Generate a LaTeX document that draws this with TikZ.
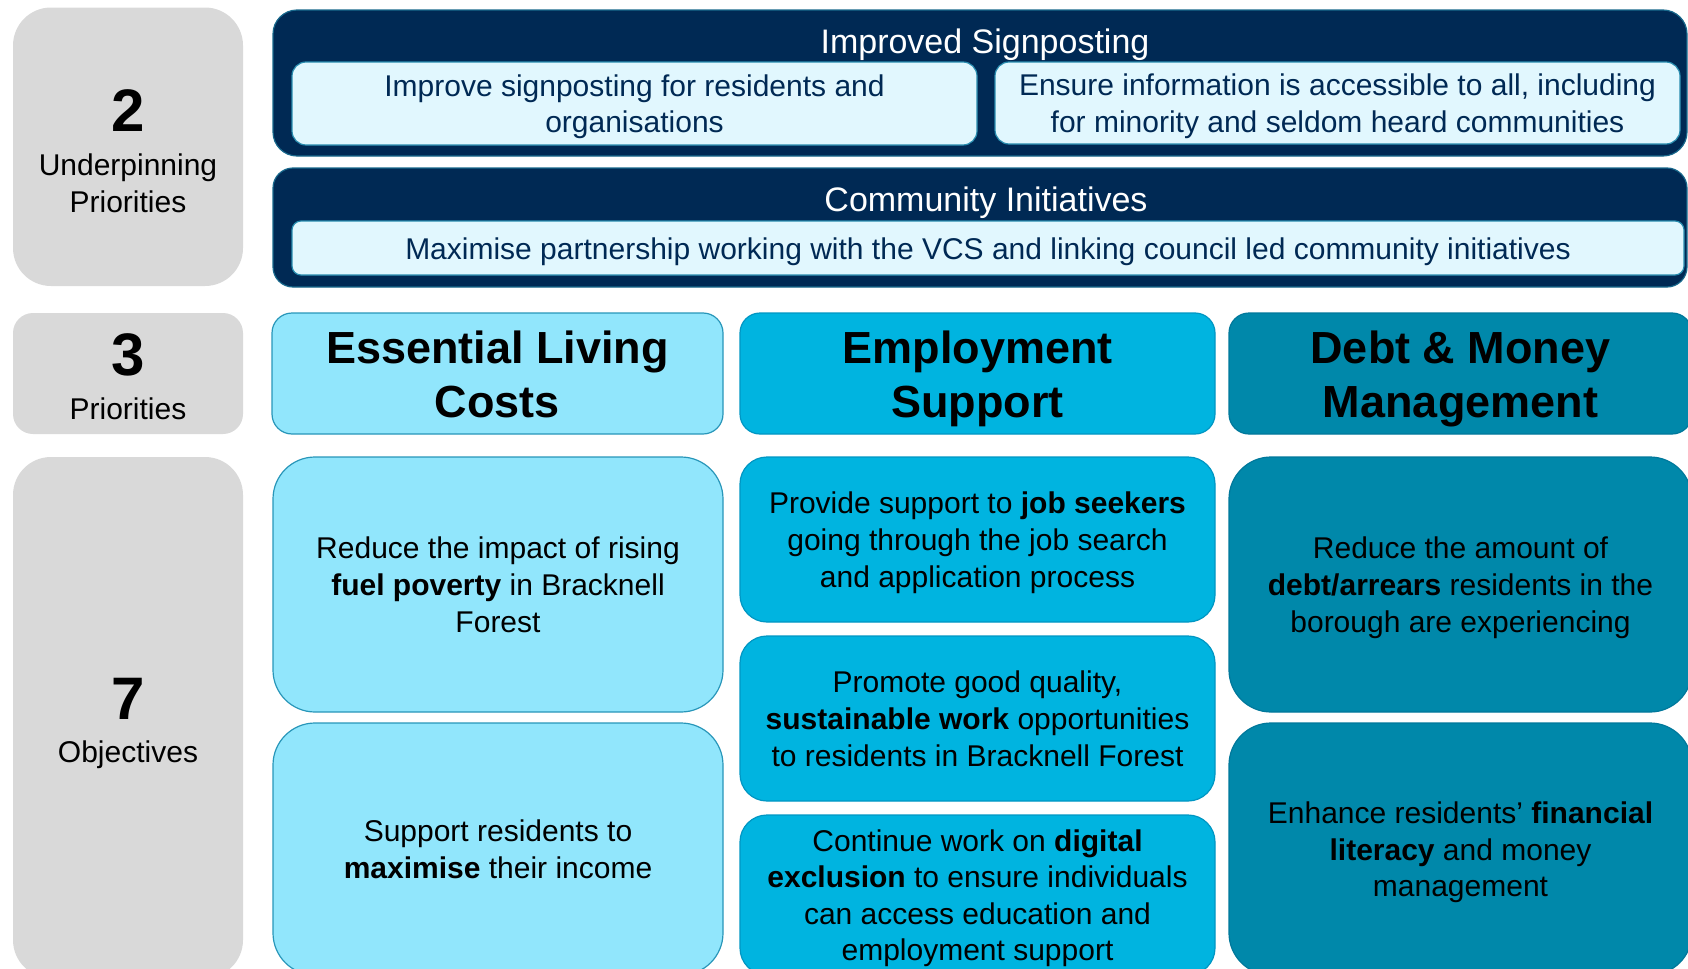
\documentclass[tikz,border=0pt]{standalone}
\usepackage{fontspec}
\setmainfont{Liberation Sans}
\usetikzlibrary{positioning}

\definecolor{greyfill}{RGB}{217,217,217}
\definecolor{navy}{RGB}{0,41,84}
\definecolor{navyline}{RGB}{24,104,140}
\definecolor{paleblue}{RGB}{225,247,254}
\definecolor{paleline}{RGB}{40,140,175}
\definecolor{elcfill}{RGB}{145,230,252}
\definecolor{elcline}{RGB}{40,150,185}
\definecolor{esfill}{RGB}{0,180,224}
\definecolor{esline}{RGB}{0,150,195}
\definecolor{dmmfill}{RGB}{0,136,170}
\definecolor{dmmline}{RGB}{0,120,155}

% each size sets a line strut of its own, so all lines sit alike
\newcommand{\linestrut}{}
\newcommand{\bodysize}{\fontsize{15}{18.3}\selectfont
  \def\linestrut{\vrule height 14.5pt depth 3.5pt width 0pt}}
\newcommand{\titlesize}{\fontsize{17}{20}\selectfont
  \def\linestrut{\vrule height 16.5pt depth 4pt width 0pt}}
\newcommand{\headsize}{\fontsize{22.5}{27}\selectfont\bfseries
  \def\linestrut{\vrule height 21.5pt depth 5pt width 0pt}}
\newcommand{\countsize}{\fontsize{30}{30}\selectfont\bfseries}

\begin{document}
\begin{tikzpicture}[x=0.5pt,y=-0.5pt]
  \tikzstyle{box}=[rectangle,inner sep=0pt,align=center,line width=0.6pt]
  \tikzstyle{grey}=[box,fill=greyfill,font=\bodysize]
  \tikzstyle{navybox}=[box,fill=navy,draw=navyline]
  \tikzstyle{pale}=[box,fill=paleblue,draw=paleline,text=navy,font=\bodysize]
  \tikzstyle{elc}=[box,fill=elcfill,draw=elcline,font=\bodysize]
  \tikzstyle{es}=[box,fill=esfill,draw=esline,font=\bodysize]
  \tikzstyle{dmm}=[box,fill=dmmfill,draw=dmmline,font=\bodysize]
  \tikzstyle{elchead}=[elc,font=\headsize]
  \tikzstyle{eshead}=[es,font=\headsize]
  \tikzstyle{dmmhead}=[dmm,font=\headsize]
  \tikzstyle{title}=[text=white,font=\titlesize]
  \tikzstyle{count}=[align=center,inner sep=0pt,font=\bodysize]

  \useasboundingbox (0,0) rectangle (1688,969);
  \clip (0,0) rectangle (1688,969);

  % boxes: name/left/top/right/bottom/corner/style/text
  \foreach \name/\xa/\ya/\xb/\yb/\r/\kind/\txt in {
      G-1/13/7.5/243/286/38/grey/{},
      G-2/13/313/243/434/20/grey/{},
      G-3/13/457/243/978/38/grey/{},
      D-1/273/10/1687/156/24/navybox/{},
      D-2/273/168/1687/287/20/navybox/{},
      I-1/292/62/977/145/14/pale/{Improve signposting for residents and\\organisations},
      I-2/995/62/1680/144/14/pale/{Ensure information is accessible to all, including\\for minority and seldom heard communities},
      I-3/292/221/1684/275/9/pale/{Maximise partnership working with the VCS and linking council led community initiatives},
      P-1/272/313/723/434/20/elchead/{Essential Living\\Costs},
      P-2/740/313/1215/434/20/eshead/{Employment\\Support},
      P-3/1229/313/1692/434/20/dmmhead/{Debt \& Money\\Management},
      O-1/273/457/723/712/42/elc/{Reduce the impact of rising\\\textbf{fuel poverty} in Bracknell\\Forest},
      O-2/273/723/723/975/42/elc/{Support residents to\\\textbf{maximise} their income},
      O-3/740/457/1215/622/27/es/{Provide support to \textbf{job seekers}\\going through the job search\\and application process},
      O-4/740/636/1215/801/27/es/{Promote good quality,\\\textbf{sustainable work} opportunities\\to residents in Bracknell Forest},
      O-5/740/815/1215/975/27/es/{Continue work on \textbf{digital}\\\textbf{exclusion} to ensure individuals\\can access education and\\employment support},
      O-6/1229/457/1692/712/42/dmm/{Reduce the amount of\\\textbf{debt/arrears} residents in the\\borough are experiencing},
      O-7/1229/723/1692/975/42/dmm/{Enhance residents’ \textbf{financial}\\\textbf{literacy} and money\\management}}
    \node[\kind,minimum width=(\xb-\xa)*0.5pt,minimum height=(\yb-\ya)*0.5pt,
          rounded corners=\r*0.5pt] (\name) at ({(\xa+\xb)/2},{(\ya+\yb)/2})
          {\linestrut\txt\linestrut};

  % counts in the grey column
  \foreach \name/\cy/\num/\txt in {N-1/154.6/2/{Underpinning\\Priorities},
                                  N-2/380.3/3/{Priorities}, N-3/724/7/{Objectives}}
    \node[count] (\name) at (128,\cy) {{\countsize \num}\\[3.5pt]\txt\linestrut};

  \node[title] (T-1) at (985,41) {\linestrut Improved Signposting\linestrut};
  \node[title] (T-2) at (986,199) {\linestrut Community Initiatives\linestrut};
\end{tikzpicture}
\end{document}
